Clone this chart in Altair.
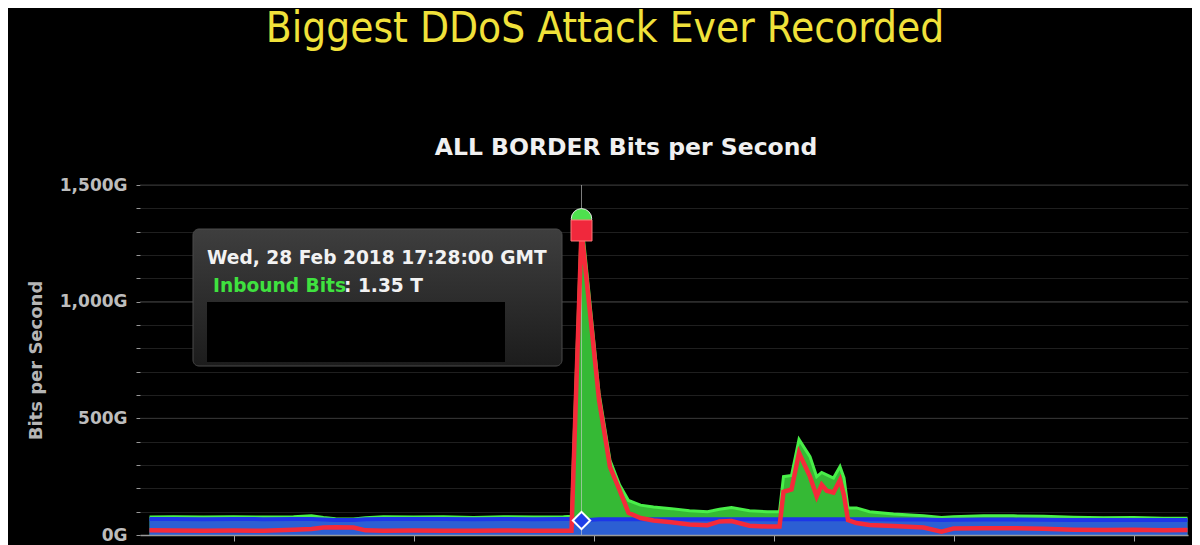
import altair as alt
import pandas as pd

# ---- data (Gbit/s) ----
times = ["16:16:00", "16:20:00", "16:25:00", "16:30:00", "16:35:00", "16:40:00", "16:43:00",
         "16:45:00", "16:47:00", "16:50:00", "16:52:00", "16:55:00", "17:00:00", "17:05:00",
         "17:10:00", "17:15:00", "17:20:00", "17:25:00", "17:26:20", "17:28:00", "17:30:55",
         "17:32:45", "17:34:20", "17:35:50", "17:37:50", "17:40:00", "17:43:00", "17:46:00",
         "17:49:00", "17:51:00", "17:53:00", "17:56:00", "17:59:00", "18:01:00", "18:01:40",
         "18:03:00", "18:04:15", "18:06:05", "18:07:12", "18:08:02", "18:08:52", "18:10:00",
         "18:11:05", "18:11:45", "18:12:25", "18:13:50", "18:16:00", "18:20:00", "18:25:00",
         "18:28:00", "18:30:00", "18:35:00", "18:40:00", "18:45:00", "18:50:00", "18:55:00",
         "19:00:00", "19:05:00", "19:09:00"]
inbound = [77, 78, 77, 78, 77, 78, 82, 75, 70, 69, 74, 78, 77, 78, 75, 78, 77, 78, 80,
           1355, 610, 320, 215, 148, 128, 120, 113, 104, 100, 110, 118, 104, 100, 100, 250,
           255, 410, 336, 250, 268, 258, 244, 293, 245, 116, 116, 100, 90, 82, 75, 78, 82,
           82, 80, 76, 74, 75, 72, 72]
outbound = [69, 69, 68, 69, 68, 69, 69, 66, 64, 64, 67, 69, 69, 69, 68, 69, 68, 69, 69,
            62, 68, 68, 68, 68, 68, 68, 68, 68, 68, 68, 68, 68, 68, 68, 68,
            68, 68, 68, 68, 68, 68, 68, 68, 68, 68, 68, 67, 66, 66, 64, 65, 66,
            66, 65, 64, 64, 64, 64, 64]
attack = [20, 19, 18, 19, 18, 22, 26, 32, 33, 32, 20, 18, 19, 18, 18, 19, 18, 18, 18,
          1305, 580, 292, 193, 95, 73, 62, 55, 45, 42, 58, 60, 40, 36, 36, 185,
          195, 352, 250, 165, 215, 190, 182, 236, 170, 64, 51, 43, 39, 32, 14, 28, 29,
          29, 27, 23, 21, 23, 20, 21]
y_ticks = list(range(0, 1600, 100))
y_major = [500, 1000, 1500]
x_ticks = [(16, 30), (17, 0), (17, 30), (18, 0), (18, 30), (19, 0)]
peak_time = "17:28:00"
DAY = "2018-02-28T"

df = pd.DataFrame({"time": [DAY + t for t in times], "inbound": inbound,
                   "outbound": outbound, "attack": attack})
peak_df = df[df["time"] == DAY + peak_time]
major_df = pd.DataFrame({"major": y_major})


def dt(h, m, s=0):
    return alt.DateTime(year=2018, month=2, date=28, hours=h, minutes=m, seconds=s)


xscale = alt.Scale(domain=[dt(16, 14, 25), dt(19, 9, 5)])
yscale = alt.Scale(domain=[0, 1500], nice=False)
FONT = "DejaVu Sans"

x_axis = alt.Axis(values=[dt(h, m) for h, m in x_ticks], format="%H:%M", title="",
                  grid=False, tickSize=6, tickColor="#aaaaaa", domainColor="#9a9a9a",
                  domainWidth=1.5, labelFont=FONT, labelFontSize=17, labelFontWeight="bold",
                  labelColor="#bbbbbb", labelPadding=3, zindex=1)
y_axis = alt.Axis(values=y_ticks,
                  labelExpr="datum.value % 500 === 0 ? format(datum.value, ',') + 'G' : ''",
                  title="Bits per Second", titleFont=FONT, titleFontSize=18,
                  titleFontWeight="bold", titleColor="#b5b5b5", titlePadding=14,
                  grid=True, gridColor="#1f1f1f", domain=False, tickSize=4,
                  tickColor="#999999", labelFont=FONT, labelFontSize=17,
                  labelFontWeight="bold", labelColor="#bdbdbd", labelPadding=9)

X = alt.X("time:T", scale=xscale, axis=x_axis)


def Y(field):
    return alt.Y(field, type="quantitative", scale=yscale, axis=y_axis)


base = alt.Chart(df)
major = alt.Chart(major_df).mark_rule(color="#353535", strokeWidth=1).encode(y=Y("major"))
green = base.mark_area(color="#35b935", opacity=1,
                       line={"color": "#48ef48", "strokeWidth": 3, "opacity": 1}).encode(
    x=X, y=Y("inbound"))
blue = base.mark_area(color="#2c5fd3", opacity=1,
                      line={"color": "#1d36e8", "strokeWidth": 4, "opacity": 1}).encode(
    x=X, y=Y("outbound"))
red = base.mark_line(color="#f52a3a", strokeWidth=4.5, opacity=1).encode(x=X, y=Y("attack"))

peak = alt.Chart(peak_df)
rule = peak.mark_rule(color="#d0d0d0", opacity=0.6, strokeWidth=1).encode(x=X)
g_pt = peak.mark_point(shape="circle", filled=True, size=420, fill="#4ee04e", stroke="#e8e8e8",
                       strokeWidth=1, opacity=1).encode(x=X, y=Y("inbound"))
r_pt = peak.mark_point(shape="square", filled=True, size=440, fill="#f0283c", stroke="#ff7a7a",
                       strokeWidth=1, opacity=1).encode(x=X, y=Y("attack"))
b_pt = peak.mark_point(shape="diamond", filled=True, size=300, fill="#1f3fe8", stroke="#ffffff",
                       strokeWidth=2, opacity=1).encode(x=X, y=Y("outbound"))

one = alt.Chart(pd.DataFrame({"k": [0]}))
box = one.mark_rect(cornerRadius=6, stroke="#4a4a4a", strokeWidth=1,
                    color=alt.Gradient(gradient="linear", x1=0, x2=0, y1=0, y2=1,
                                       stops=[alt.GradientStop(color="#3e3e3e", offset=0),
                                              alt.GradientStop(color="#1c1c1c", offset=1)])
                    ).encode(x=alt.value(53), x2=alt.value(422), y=alt.value(44), y2=alt.value(181))
redact = one.mark_rect(color="#000000").encode(
    x=alt.value(67), x2=alt.value(365), y=alt.value(117), y2=alt.value(177))

tip_date = one.mark_text(align="left", baseline="middle", font=FONT, fontSize=18.6,
                         fontWeight="bold", color="#f2f2f2",
                         text="Wed, 28 Feb 2018 17:28:00 GMT").encode(
    x=alt.value(67), y=alt.value(73))
tip_name = one.mark_text(align="left", baseline="middle", font=FONT, fontSize=18.6,
                         fontWeight="bold", color="#3fe23f", text="Inbound Bits").encode(
    x=alt.value(73), y=alt.value(101))
tip_val = one.mark_text(align="left", baseline="middle", font=FONT, fontSize=18.6,
                        fontWeight="bold", color="#f2f2f2", text=": 1.35 T").encode(
    x=alt.value(204), y=alt.value(101))

slide_title = one.mark_text(align="center", baseline="alphabetic",
                            font="Liberation Sans Narrow, DejaVu Sans Condensed, Roboto Condensed, sans-serif",
                            fontSize=42, color="#f0e13a",
                            text="Biggest DDoS Attack Ever Recorded").encode(
    x=alt.value(465), y=alt.value(-143))
chart_title = one.mark_text(align="center", baseline="middle", font=FONT, fontSize=23.5,
                            fontWeight="bold", color="#f0f0f0",
                            text="ALL BORDER Bits per Second").encode(
    x=alt.value(486), y=alt.value(-37))

chart = alt.layer(major, green, blue, rule, box, redact, tip_date, tip_name, tip_val, red,
                  g_pt, r_pt, b_pt, slide_title, chart_title).properties(
    width=1048, height=350,
    autosize=alt.AutoSizeParams(type="none"),
    padding={"left": 132, "top": 177, "right": 4, "bottom": 10},
    background="#000000",
).configure_view(strokeWidth=0)

chart.save("out.html", embed_options={"renderer": "svg", "actions": False})
